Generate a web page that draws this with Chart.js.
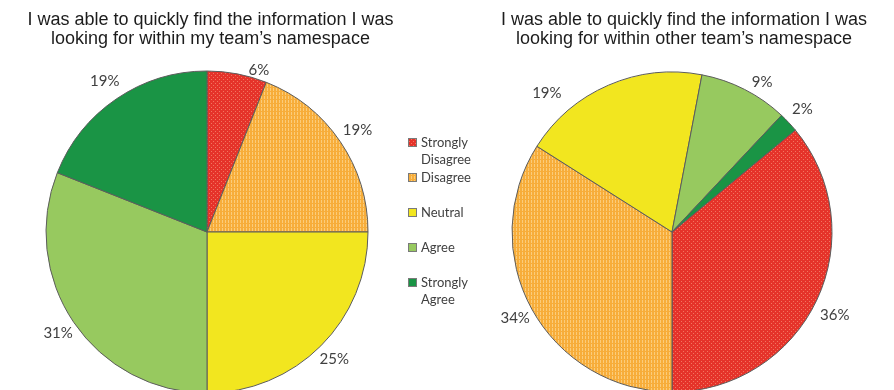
<!DOCTYPE html>
<html>
<head>
<meta charset="utf-8">
<script src="https://cdn.jsdelivr.net/npm/chart.js@4"></script>
<style>
  html, body { margin: 0; padding: 0; background: #fff; }
  #wrap { position: relative; width: 894px; height: 390px; overflow: hidden; }
  canvas { position: absolute; left: 0; top: 0; }
  .title {
    position: absolute; top: 10px;
    font-family: "Liberation Sans", Arial, sans-serif;
    font-size: 18px; line-height: 19px; color: #1c1c1c;
    text-align: center; white-space: nowrap;
  }
</style>
</head>
<body>
<div id="wrap">
  <canvas id="pieMine" width="894" height="400"></canvas>
  <canvas id="pieOther" width="894" height="400"></canvas>
  <div class="title" id="titleMine" style="left:0;width:421px;"></div>
  <div class="title" id="titleOther" style="left:474px;width:420px;"></div>
</div>
<script>
// Survey answers, in percent of respondents
const categories = ['Strongly Disagree', 'Disagree', 'Neutral', 'Agree', 'Strongly Agree'];
const myTeamShare = [6, 19, 25, 31, 19];
const otherTeamShare = [36, 34, 19, 9, 2];

const titleMineLines = ['I was able to quickly find the information I was', 'looking for within my team\u2019s namespace'];
const titleOtherLines = ['I was able to quickly find the information I was', 'looking for within other team\u2019s namespace'];

document.getElementById('titleMine').innerHTML = titleMineLines.join('<br>');
document.getElementById('titleOther').innerHTML = titleOtherLines.join('<br>');

// Small dotted textures for the two "disagree" slices
function dotPattern(base, dot, w, h, dots) {
  const c = document.createElement('canvas');
  c.width = w; c.height = h;
  const g = c.getContext('2d');
  g.fillStyle = base; g.fillRect(0, 0, w, h);
  g.fillStyle = dot;
  dots.forEach(([x, y, dw, dh]) => g.fillRect(x, y, dw, dh));
  return g.createPattern(c, 'repeat');
}
const probe = document.createElement('canvas').getContext('2d');
const redFill = dotPattern('#e5332a', '#f27560', 4, 4, [[1, 1, 1, 1], [3, 3, 1, 1]]);
const orangeFill = dotPattern('#f7ad3a', '#fbcc7a', 3, 4, [[0, 0, 1, 3]]);
const sliceColors = [redFill, orangeFill, '#f2e61f', '#97c95f', '#1a9445'];

// Percentage labels just outside each slice
const pctLabels = {
  id: 'pctLabels',
  afterDatasetsDraw(chart, args, opts) {
    const ctx = chart.ctx;
    const meta = chart.getDatasetMeta(0);
    const values = chart.data.datasets[0].data;
    ctx.save();
    ctx.font = '15px Lato, "Open Sans", sans-serif';
    ctx.fillStyle = '#404040';
    ctx.textAlign = 'center';
    ctx.textBaseline = 'middle';
    meta.data.forEach((arc, i) => {
      const p = arc.getProps(['x', 'y', 'startAngle', 'endAngle', 'outerRadius'], true);
      const n = (opts.nudge && opts.nudge[i]) || [0, 0];
      const a = (p.startAngle + p.endAngle) / 2 + n[0] * Math.PI / 180;
      const d = p.outerRadius + opts.gap + n[1];
      ctx.fillText(values[i] + '%', p.x + Math.cos(a) * d, p.y + Math.sin(a) * d);
    });
    ctx.restore();
  }
};

// Shared legend drawn between the two pies
const sideLegend = {
  id: 'sideLegend',
  afterDraw(chart, args, o) {
    if (!o.show) return;
    const ctx = chart.ctx;
    const ds = chart.data.datasets[0];
    ctx.save();
    ctx.font = '13px Lato, "Open Sans", sans-serif';
    ctx.textBaseline = 'alphabetic';
    ctx.textAlign = 'left';
    chart.data.labels.forEach((label, i) => {
      const top = o.y + i * o.slot;
      ctx.fillStyle = ds.backgroundColor[i];
      ctx.fillRect(o.x, top, 9, 9);
      ctx.strokeStyle = '#7a7a7a';
      ctx.lineWidth = 1;
      ctx.strokeRect(o.x + 0.5, top + 0.5, 8, 8);
      const words = label.split(' ');
      const lines = [];
      let cur = '';
      words.forEach(w => {
        const t = cur ? cur + ' ' + w : w;
        if (cur && ctx.measureText(t).width > o.maxWidth) { lines.push(cur); cur = w; }
        else cur = t;
      });
      lines.push(cur);
      ctx.fillStyle = '#404040';
      lines.forEach((ln, k) => ctx.fillText(ln, o.x + 13, top + 8.7 + k * o.lineHeight));
    });
    ctx.restore();
  }
};

function makePie(id, values, rotation, padding, radius, labelOpts, legendOpts) {
  return new Chart(document.getElementById(id), {
    type: 'pie',
    data: {
      labels: categories,
      datasets: [{
        data: values,
        backgroundColor: sliceColors,
        borderColor: '#5c5c5c',
        borderWidth: 1
      }]
    },
    options: {
      responsive: false,
      animation: false,
      events: [],
      rotation: rotation,
      radius: radius,
      layout: { padding: padding },
      plugins: {
        legend: { display: false },
        tooltip: { enabled: false },
        title: { display: false },
        pctLabels: labelOpts,
        sideLegend: legendOpts
      }
    },
    plugins: [pctLabels, sideLegend]
  });
}

makePie('pieMine', myTeamShare, 0,
  { left: 0, right: 480, top: 64, bottom: 0 }, 161,
  { gap: 19, nudge: [[7, -10], [0, 2], [0, 0], [0, 0], [0, 2]] },
  { show: true, x: 408, y: 138, slot: 35, lineHeight: 17.5, maxWidth: 60 });

makePie('pieOther', otherTeamShare, 50.4,
  { left: 500, right: 50, top: 64, bottom: 0 }, 160,
  { gap: 19, nudge: [[2, 4], [0, 0], [-18.6, 8], [4, -4], [0, 0]] },
  { show: false });
</script>
</body>
</html>
